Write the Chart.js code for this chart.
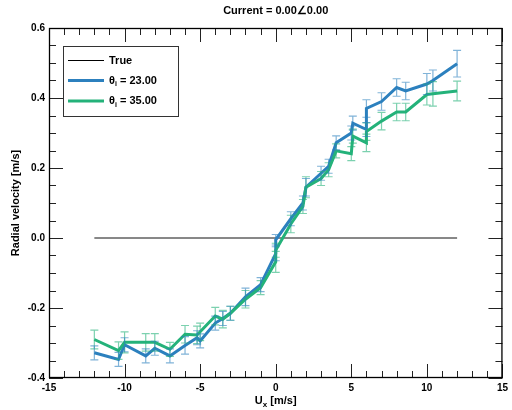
<!DOCTYPE html>
<html>
<head>
<meta charset="utf-8">
<script src="https://cdn.jsdelivr.net/npm/chart.js@4/dist/chart.umd.min.js"></script>
<style>
html,body{margin:0;padding:0;background:#fff;}
#wrap{width:512px;height:410px;position:relative;}
</style>
</head>
<body>
<div id="wrap"><canvas id="c" width="512" height="410"></canvas></div>
<script>
// ---- data ----
const chartTitle = "Current = 0.00\u22200.00";
const uxValues = [-12, -10.4, -10, -8.6, -8, -7, -6, -5.2, -5, -4, -3.5, -3, -2, -1, 0, 0, 1, 1.8, 2, 3, 3.5, 4, 5, 5.1, 6, 6, 7, 8, 8.6, 10, 10.4, 12];
const vel23 = [-0.328, -0.347, -0.305, -0.337, -0.315, -0.337, -0.307, -0.285, -0.294, -0.243, -0.23, -0.215, -0.168, -0.133, -0.045, -0.005, 0.055, 0.10, 0.145, 0.185, 0.205, 0.272, 0.30, 0.328, 0.31, 0.37, 0.39, 0.43, 0.42, 0.44, 0.45, 0.498];
const err23 = [0.02, 0.02, 0.02, 0.02, 0.02, 0.02, 0.025, 0.02, 0.02, 0.02, 0.02, 0.02, 0.025, 0.02, 0.02, 0.015, 0.02, 0.02, 0.025, 0.02, 0.02, 0.02, 0.02, 0.02, 0.02, 0.025, 0.025, 0.025, 0.025, 0.03, 0.03, 0.038];
const vel35 = [-0.29, -0.322, -0.298, -0.298, -0.298, -0.318, -0.275, -0.277, -0.268, -0.223, -0.232, -0.215, -0.175, -0.142, -0.068, -0.035, 0.04, 0.09, 0.145, 0.17, 0.195, 0.249, 0.241, 0.291, 0.272, 0.304, 0.334, 0.36, 0.36, 0.41, 0.412, 0.42];
const err35 = [0.027, 0.025, 0.03, 0.025, 0.025, 0.02, 0.025, 0.025, 0.025, 0.025, 0.025, 0.02, 0.025, 0.02, 0.03, 0.02, 0.025, 0.02, 0.03, 0.02, 0.02, 0.02, 0.02, 0.02, 0.025, 0.025, 0.025, 0.025, 0.025, 0.03, 0.035, 0.028];
const trueX = [-12, 12];
const trueY = [0, 0];
const seriesNames = ["True", "23.00", "35.00"];
const xTicks = [-15, -10, -5, 0, 5, 10, 15];
const yTicks = [-0.4, -0.2, 0.0, 0.2, 0.4, 0.6];

const BLUE = "rgb(44,128,190)";
const GREEN = "rgb(36,178,122)";
const BLUE_E = "rgba(44,128,190,0.6)";
const GREEN_E = "rgba(36,178,122,0.6)";
const FONT = "'Liberation Sans', Arial, Helvetica, sans-serif";

const pts = (xs, ys) => xs.map((x, i) => ({x: x, y: ys[i]}));

const errorBarPlugin = {
  id: 'errbars',
  afterDatasetsDraw(chart) {
    const ctx = chart.ctx, xs = chart.scales.x, ys = chart.scales.y;
    chart.data.datasets.forEach(ds => {
      if (!ds.errors) return;
      ctx.save();
      ctx.strokeStyle = ds.errColor;
      ctx.lineWidth = 1.2;
      ds.data.forEach((p, i) => {
        const px = xs.getPixelForValue(p.x);
        const y1 = ys.getPixelForValue(p.y + ds.errors[i]);
        const y2 = ys.getPixelForValue(p.y - ds.errors[i]);
        ctx.beginPath();
        ctx.moveTo(px, y1); ctx.lineTo(px, y2);
        ctx.moveTo(px - 4, y1); ctx.lineTo(px + 4, y1);
        ctx.moveTo(px - 4, y2); ctx.lineTo(px + 4, y2);
        ctx.stroke();
      });
      ctx.restore();
    });
  }
};

const decorPlugin = {
  id: 'decor',
  afterDraw(chart) {
    const ctx = chart.ctx, a = chart.chartArea, xs = chart.scales.x, ys = chart.scales.y;
    ctx.save();
    // inside ticks
    ctx.strokeStyle = "#222";
    ctx.lineWidth = 1;
    ctx.beginPath();
    for (let v = -15; v <= 15; v++) {
      const px = Math.round(xs.getPixelForValue(v)) + 0.5;
      const len = (v % 5 === 0) ? 14 : 7;
      ctx.moveTo(px, a.bottom); ctx.lineTo(px, a.bottom - len);
      ctx.moveTo(px, a.top); ctx.lineTo(px, a.top + len);
    }
    for (let k = 0; k <= 20; k++) {
      const v = -0.4 + k * 0.05;
      const py = Math.round(ys.getPixelForValue(v)) + 0.5;
      const len = (k % 4 === 0) ? 14 : 7;
      ctx.moveTo(a.left, py); ctx.lineTo(a.left + len, py);
      ctx.moveTo(a.right, py); ctx.lineTo(a.right - len, py);
    }
    ctx.stroke();
    // frame
    ctx.strokeStyle = "#000";
    ctx.lineWidth = 1.3;
    ctx.strokeRect(a.left + 0.5, a.top + 0.5, a.right - a.left - 1, a.bottom - a.top - 1);

    // title
    ctx.fillStyle = "#000";
    ctx.textAlign = "center";
    ctx.textBaseline = "middle";
    ctx.font = "bold 11px " + FONT;
    ctx.fillText(chartTitle, (a.left + a.right) / 2, 11);

    // x axis title: U_x [m/s]
    const cx = (a.left + a.right) / 2, cy = 401;
    ctx.font = "bold 11px " + FONT;
    const wU = ctx.measureText("U").width;
    const wR = ctx.measureText(" [m/s]").width;
    ctx.font = "bold 8px " + FONT;
    const wx = ctx.measureText("x").width;
    let sx = cx - (wU + wx + wR) / 2;
    ctx.textAlign = "left";
    ctx.font = "bold 11px " + FONT;
    ctx.fillText("U", sx, cy);
    ctx.font = "bold 8px " + FONT;
    ctx.fillText("x", sx + wU, cy + 4);
    ctx.font = "bold 11px " + FONT;
    ctx.fillText(" [m/s]", sx + wU + wx, cy);

    // y axis title
    ctx.save();
    ctx.translate(16, (a.top + a.bottom) / 2);
    ctx.rotate(-Math.PI / 2);
    ctx.textAlign = "center";
    ctx.font = "bold 11px " + FONT;
    ctx.fillText("Radial velocity [m/s]", 0, 0);
    ctx.restore();

    // legend
    const lx = 63.5, ly = 46.5, lw = 115, lh = 70;
    ctx.fillStyle = "#fff";
    ctx.fillRect(lx, ly, lw, lh);
    ctx.strokeStyle = "#333";
    ctx.lineWidth = 1;
    ctx.strokeRect(lx, ly, lw, lh);
    const rows = [
      {y: 60.5, color: "#000", w: 1, label: seriesNames[0], theta: false},
      {y: 80.5, color: BLUE, w: 3, label: seriesNames[1], theta: true},
      {y: 101, color: GREEN, w: 3, label: seriesNames[2], theta: true}
    ];
    rows.forEach(r => {
      ctx.strokeStyle = r.color;
      ctx.lineWidth = r.w;
      ctx.beginPath();
      ctx.moveTo(68, r.y); ctx.lineTo(104, r.y);
      ctx.stroke();
      ctx.fillStyle = "#000";
      ctx.textAlign = "left";
      ctx.textBaseline = "middle";
      let tx = 109;
      if (r.theta) {
        ctx.font = "bold 11px " + FONT;
        ctx.fillText("\u03B8", tx, r.y);
        tx += ctx.measureText("\u03B8").width;
        ctx.font = "bold 7px " + FONT;
        ctx.fillText("i", tx, r.y + 4);
        tx += ctx.measureText("i").width;
        ctx.font = "bold 11px " + FONT;
        ctx.fillText(" = " + r.label, tx, r.y);
      } else {
        ctx.font = "bold 11px " + FONT;
        ctx.fillText(r.label, tx, r.y);
      }
    });
    ctx.restore();
  }
};

Chart.defaults.font.family = FONT;
Chart.defaults.font.weight = "bold";
Chart.defaults.font.size = 10;
Chart.defaults.color = "#000";

new Chart(document.getElementById("c"), {
  type: "scatter",
  data: {
    datasets: [
      {label: seriesNames[2], data: pts(uxValues, vel35), errors: err35, errColor: GREEN_E,
       borderColor: GREEN, backgroundColor: GREEN, borderWidth: 3, showLine: true, pointRadius: 0, order: 0},
      {label: seriesNames[1], data: pts(uxValues, vel23), errors: err23, errColor: BLUE_E,
       borderColor: BLUE, backgroundColor: BLUE, borderWidth: 3, showLine: true, pointRadius: 0, order: 1},
      {label: seriesNames[0], data: pts(trueX, trueY),
       borderColor: "#111", backgroundColor: "#111", borderWidth: 1, showLine: true, pointRadius: 0, order: 2}
    ]
  },
  options: {
    responsive: false,
    animation: false,
    events: [],
    layout: {padding: {top: 28, right: 5, left: 0, bottom: 0}},
    plugins: {legend: {display: false}, tooltip: {enabled: false}, title: {display: false}},
    scales: {
      x: {
        type: "linear", min: -15, max: 15,
        afterFit(s) { s.height = 32; },
        afterBuildTicks(s) { s.ticks = xTicks.map(v => ({value: v})); },
        grid: {display: false, drawTicks: false},
        border: {display: false},
        ticks: {padding: 4, maxRotation: 0, autoSkip: false, callback: v => String(v)}
      },
      y: {
        type: "linear", min: -0.4, max: 0.6,
        afterFit(s) { s.width = 49; },
        afterBuildTicks(s) { s.ticks = yTicks.map(v => ({value: v})); },
        grid: {display: false, drawTicks: false},
        border: {display: false},
        ticks: {padding: 4, autoSkip: false, callback: v => Number(v).toFixed(1)}
      }
    }
  },
  plugins: [errorBarPlugin, decorPlugin]
});
</script>
</body>
</html>
